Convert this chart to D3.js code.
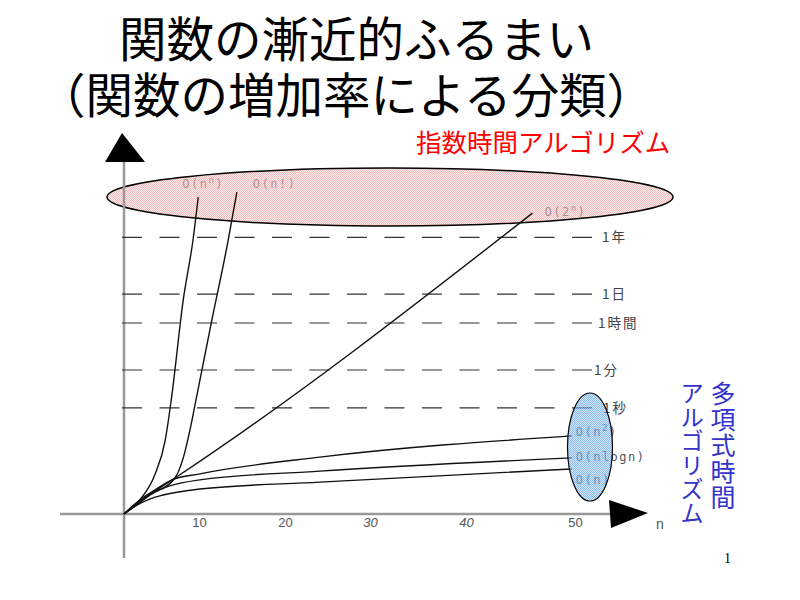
<!DOCTYPE html>
<html><head><meta charset="utf-8">
<script src="https://cdn.jsdelivr.net/npm/d3@7/dist/d3.min.js"></script>
<style>body{margin:0;background:#fff}svg{display:block}</style>
</head><body>
<script>
// ---- data ----
const titleLines = ["関数の漸近的ふるまい", "（関数の増加率による分類）"];
const expLabel = "指数時間アルゴリズム";
const polyLabelCols = ["多項式時間", "アルゴリズム"];
const nTicks = [10, 20, 30, 40, 50];
const levelNames = ["1秒", "1分", "1時間", "1日", "1年"];
const levelValues = [28, 38, 50.4, 58, 73];

const seriesNames = ["O(n)", "O(nlogn)", "O(n^2)", "O(2^n)", "O(n^n)", "O(n!)"];
const nLinear  = [0, 1.5, 3.5, 5.2, 10.1, 24.1, 49.7];
const vLinear  = [0, 2.1, 4.0, 5.0, 6.6, 8.4, 11.9];
const nNlogn   = [0, 1.5, 3.5, 6.1, 10.1, 24.1, 49.7];
const vNlogn   = [0, 2.6, 5.3, 7.4, 9.0, 11.3, 14.8];
const nSquare  = [0, 2.1, 4.1, 6.4, 10.1, 24.1, 49.7];
const vSquare  = [0, 3.7, 6.3, 9.0, 10.6, 15.0, 20.6];
const nExp2    = [0, 2.1, 4.8, 6.8, 46.1];
const vExp2    = [0, 3.2, 6.9, 9.5, 79.4];
const nPowN    = [0, 2.1, 4.1, 5.5, 6.3, 7.9, 9.2, 9.9];
const vPowN    = [0, 3.7, 10.3, 19.5, 30.1, 56.5, 72.3, 83.6];
const nFact    = [0, 3.5, 6.8, 7.9, 8.8, 9.6, 11.5, 13.4, 14.4];
const vFact    = [0, 5.0, 9.5, 14.8, 22.2, 30.1, 51.2, 72.3, 84.9];

const seriesN = [nLinear, nNlogn, nSquare, nExp2, nPowN, nFact];
const seriesV = [vLinear, vNlogn, vSquare, vExp2, vPowN, vFact];

// ---- layout ----
const W = 800, H = 600;
const svg = d3.select("body").append("svg").attr("width", W).attr("height", H);
const jp = "'Noto Sans CJK JP', 'Noto Sans', sans-serif";
const latin = "'Liberation Sans', Arial, sans-serif";

const defs = svg.append("defs");
const pb = defs.append("pattern").attr("id", "blueDither").attr("patternUnits", "userSpaceOnUse")
  .attr("width", 2).attr("height", 2);
pb.append("rect").attr("width", 2).attr("height", 2).attr("fill", "#b4d6f8");
pb.append("rect").attr("width", 1).attr("height", 1).attr("fill", "#3f8ee8");
pb.append("rect").attr("x", 1).attr("y", 1).attr("width", 1).attr("height", 1).attr("fill", "#3f8ee8");
const pr = defs.append("pattern").attr("id", "redDither").attr("patternUnits", "userSpaceOnUse")
  .attr("width", 2).attr("height", 2);
pr.append("rect").attr("width", 2).attr("height", 2).attr("fill", "#fdeaea");
pr.append("rect").attr("width", 1).attr("height", 1).attr("fill", "#f4bcbc");
pr.append("rect").attr("x", 1).attr("y", 1).attr("width", 1).attr("height", 1).attr("fill", "#f4bcbc");

// hand-drawn, slightly uneven n axis
const x = d3.scaleLinear().domain([0, ...nTicks]).range([124, 199, 285, 370, 466, 575]);
const y = d3.scaleLinear().domain([0, 100]).range([514, 135]);

// title
svg.append("text").attr("x", 119).attr("y", 57).attr("font-family", jp)
  .attr("font-size", 47.5).attr("fill", "#000").text(titleLines[0]);
svg.append("text").attr("x", 38).attr("y", 113).attr("font-family", jp)
  .attr("font-size", 47.5).attr("fill", "#000").text(titleLines[1]);

// red label
svg.append("text").attr("x", 416).attr("y", 152).attr("font-family", jp)
  .attr("font-size", 25.5).attr("fill", "#ff0000").text(expLabel);

// blue vertical labels
const polyX = [723, 692];
polyLabelCols.forEach((t, i) => {
  svg.append("text").attr("x", polyX[i]).attr("y", 381)
    .attr("font-family", jp).attr("font-size", i === 0 ? 25 : 23.5)
    .attr("letter-spacing", i === 0 ? 1 : 0.5)
    .style("writing-mode", "vertical-rl")
    .attr("fill", "#3333cc").text(t);
});

// red ellipse (exponential region)
svg.append("ellipse").attr("cx", 390).attr("cy", 197).attr("rx", 283).attr("ry", 29)
  .attr("fill", "url(#redDither)").attr("stroke", "#000").attr("stroke-width", 1.5);

// axes lines
const axisColor = "#999";
svg.append("line").attr("x1", 60).attr("x2", 612).attr("y1", y(0)).attr("y2", y(0))
  .attr("stroke", axisColor).attr("stroke-width", 2.5);
svg.append("line").attr("x1", x(0)).attr("x2", x(0)).attr("y1", 558).attr("y2", 158)
  .attr("stroke", axisColor).attr("stroke-width", 2.5);
// arrow heads
svg.append("path").attr("d", `M609,500 L648,513 L611,528 Z`).attr("fill", "#000");
svg.append("path").attr("d", `M105,162 L122,133 L145,162 Z`).attr("fill", "#000");

// tick labels through axis
const xAxis = d3.axisBottom(x).tickValues(nTicks).tickSize(0).tickPadding(4)
  .tickFormat(d3.format("d"));
const gx = svg.append("g").attr("transform", `translate(0,${y(0)})`).call(xAxis);
gx.select(".domain").remove();
gx.selectAll("text").attr("font-family", latin).attr("font-size", 13).attr("fill", "#555")
  .attr("font-style", d => (d === 30 || d === 40) ? "italic" : "normal");
svg.append("text").attr("x", 656).attr("y", 529).attr("font-family", latin)
  .attr("font-size", 14).attr("fill", "#555").text("n");

// dashed time levels
const levelDx = [3, -6, -2, 2, 2];
const lv = svg.append("g");
levelValues.forEach((v, i) => {
  lv.append("line").attr("x1", 122).attr("x2", 592).attr("y1", y(v)).attr("y2", y(v))
    .attr("stroke", "#333").attr("stroke-width", 1.2).attr("stroke-dasharray", "20,17.5");
  lv.append("text").attr("x", 600 + levelDx[i]).attr("y", y(v) + 5).attr("font-family", jp)
    .attr("font-size", 13.5).attr("letter-spacing", 2).attr("fill", "#444").text(levelNames[i]);
});

// curves
const line = d3.line().x(d => x(d[0])).y(d => y(d[1])).curve(d3.curveMonotoneX);
seriesN.forEach((ns, i) => {
  const pts = ns.map((n, j) => [n, seriesV[i][j]]);
  svg.append("path").attr("d", line(pts)).attr("fill", "none")
    .attr("stroke", "#111").attr("stroke-width", 1.4);
});

// curve labels (relative to curve end)
const labelDx = [4, 4, 4, 12, -16, 16];
const labelDy = [15, 3, 0, 3, -9, -4];
const labelColor = ["#555566", "#555566", "#555566", "#a89090", "#b89090", "#b89090"];
seriesN.forEach((ns, i) => {
  const last = ns.length - 1;
  const t = svg.append("text").attr("x", x(ns[last]) + labelDx[i])
    .attr("y", y(seriesV[i][last]) + labelDy[i])
    .attr("font-family", "'DejaVu Sans Mono', monospace").attr("font-size", 12)
    .attr("letter-spacing", 1.5).attr("fill", labelColor[i]);
  const m = seriesNames[i].match(/^(.*?)\^(.)(.*)$/);
  if (m) {
    t.append("tspan").text(m[1]);
    t.append("tspan").attr("font-size", 9).attr("dy", -5).text(m[2]);
    t.append("tspan").attr("dy", 5).text(m[3]);
  } else {
    t.text(seriesNames[i]);
  }
});

// blue ellipse (polynomial region), translucent over labels
svg.append("ellipse").attr("cx", 590).attr("cy", 447).attr("rx", 22.5).attr("ry", 54)
  .attr("fill", "url(#blueDither)").attr("fill-opacity", 0.6).attr("stroke", "#000").attr("stroke-width", 1.2);

// page number
svg.append("text").attr("x", 724).attr("y", 563).attr("font-family", "'Liberation Serif', serif")
  .attr("font-size", 14).attr("fill", "#000").text("1");
</script>
</body></html>
